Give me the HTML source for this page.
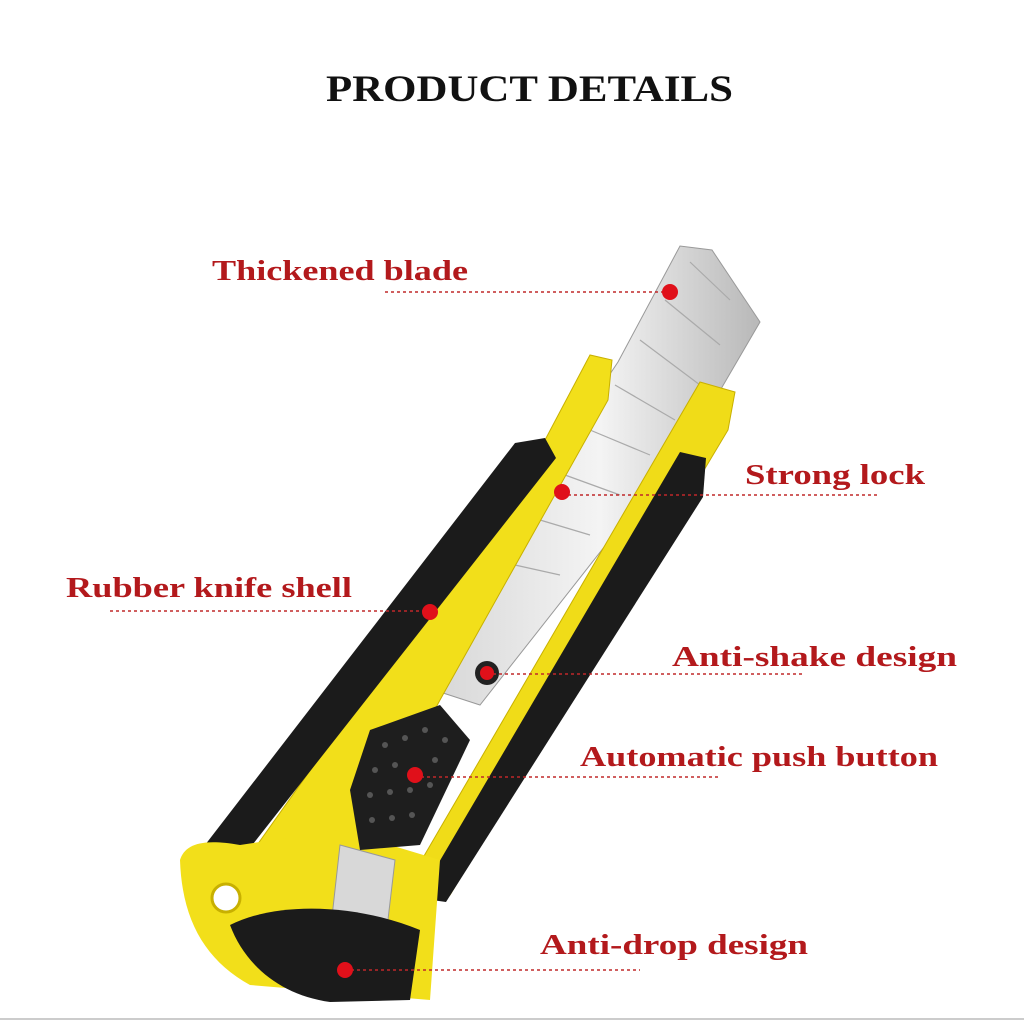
<!DOCTYPE html>
<html><head><meta charset="utf-8"><style>
html,body{margin:0;padding:0;background:#fff;}
svg{display:block;}
text{font-family:"Liberation Serif",serif;font-weight:bold;}
.l{fill:#b3191c;font-size:28px;}
.d{stroke:#c0282a;stroke-width:1.6;stroke-dasharray:3 3;fill:none;}
.dot{fill:#e0101a;}
</style></head><body>
<svg width="1024" height="1024" viewBox="0 0 1024 1024" xmlns="http://www.w3.org/2000/svg">
<defs>
<linearGradient id="bl" x1="0" y1="0" x2="1" y2="0">
<stop offset="0" stop-color="#d8d8d8"/><stop offset="0.5" stop-color="#f4f4f4"/><stop offset="1" stop-color="#b8b8b8"/>
</linearGradient>
</defs>
<rect width="1024" height="1024" fill="#fff"/>
<text x="326" y="101" font-size="37" fill="#111" textLength="407" lengthAdjust="spacingAndGlyphs">PRODUCT DETAILS</text>

<polygon points="618,362 680,246 712,250 760,322 700,425 480,705 440,692 446,620" fill="url(#bl)" stroke="#999" stroke-width="1"/>
<g stroke="#aaa" stroke-width="1.2">
<line x1="690" y1="262" x2="730" y2="300"/><line x1="665" y1="300" x2="720" y2="345"/>
<line x1="640" y1="340" x2="700" y2="385"/><line x1="615" y1="385" x2="675" y2="420"/>
<line x1="590" y1="430" x2="650" y2="455"/><line x1="565" y1="475" x2="620" y2="495"/>
<line x1="540" y1="520" x2="590" y2="535"/><line x1="515" y1="565" x2="560" y2="575"/>
</g>
<polyline points="600,400 590,425 580,430 570,455 560,460 550,485 540,490 530,515 520,520 510,545 500,550 490,575 480,580 470,605 460,610 450,635" fill="none" stroke="#777" stroke-width="2"/>

<polygon points="545,440 590,355 612,360 608,400 440,700 360,850 250,855" fill="#f2df1a" stroke="#c8b000" stroke-width="1"/>
<polygon points="515,443 545,438 556,458 242,858 205,845" fill="#1b1b1b"/>
<polygon points="700,382 735,392 728,430 450,895 418,895 410,880" fill="#f0dc18" stroke="#c8b000" stroke-width="1"/>
<polygon points="680,452 706,458 703,497 446,902 418,898" fill="#1b1b1b"/>
<path d="M180,860 C185,845 200,838 240,845 L340,830 L440,860 L430,1000 L250,985 C205,960 182,920 180,860 Z" fill="#f2df1a"/>
<polygon points="340,845 395,860 385,945 330,935" fill="#d8d8d8" stroke="#999"/>
<circle cx="226" cy="898" r="14" fill="#fff" stroke="#c8b000" stroke-width="3"/>
<path d="M230,925 C280,900 360,905 420,930 L410,1000 L330,1002 C280,995 245,965 230,925 Z" fill="#1b1b1b"/>
<path d="M370,730 L440,705 L470,740 L420,845 L360,850 L350,790 Z" fill="#1e1e1e"/>
<g fill="#555">
<circle cx="385" cy="745" r="3"/><circle cx="405" cy="738" r="3"/><circle cx="425" cy="730" r="3"/><circle cx="445" cy="740" r="3"/>
<circle cx="375" cy="770" r="3"/><circle cx="395" cy="765" r="3"/><circle cx="435" cy="760" r="3"/>
<circle cx="370" cy="795" r="3"/><circle cx="390" cy="792" r="3"/><circle cx="410" cy="790" r="3"/><circle cx="430" cy="785" r="3"/>
<circle cx="372" cy="820" r="3"/><circle cx="392" cy="818" r="3"/><circle cx="412" cy="815" r="3"/>
</g>
<circle cx="487" cy="673" r="12" fill="#222"/>

<text class="l" x="212" y="280" textLength="256" lengthAdjust="spacingAndGlyphs">Thickened blade</text>
<line class="d" x1="385" y1="292" x2="670" y2="292"/><circle class="dot" cx="670" cy="292" r="8"/>
<text class="l" x="745" y="484" textLength="180" lengthAdjust="spacingAndGlyphs">Strong lock</text>
<line class="d" x1="562" y1="495" x2="880" y2="495"/><circle class="dot" cx="562" cy="492" r="8"/>
<text class="l" x="66" y="597" textLength="286" lengthAdjust="spacingAndGlyphs">Rubber knife shell</text>
<line class="d" x1="110" y1="611" x2="430" y2="611"/><circle class="dot" cx="430" cy="612" r="8"/>
<text class="l" x="672" y="666" textLength="285" lengthAdjust="spacingAndGlyphs">Anti-shake design</text>
<line class="d" x1="487" y1="674" x2="805" y2="674"/><circle class="dot" cx="487" cy="673" r="7"/>
<text class="l" x="580" y="766" textLength="358" lengthAdjust="spacingAndGlyphs">Automatic push button</text>
<line class="d" x1="415" y1="777" x2="720" y2="777"/><circle class="dot" cx="415" cy="775" r="8"/>
<text class="l" x="540" y="954" textLength="268" lengthAdjust="spacingAndGlyphs">Anti-drop design</text>
<line class="d" x1="345" y1="970" x2="640" y2="970"/><circle class="dot" cx="345" cy="970" r="8"/>

<line x1="0" y1="1019" x2="1024" y2="1019" stroke="#ccc" stroke-width="2"/>
</svg>
</body></html>
